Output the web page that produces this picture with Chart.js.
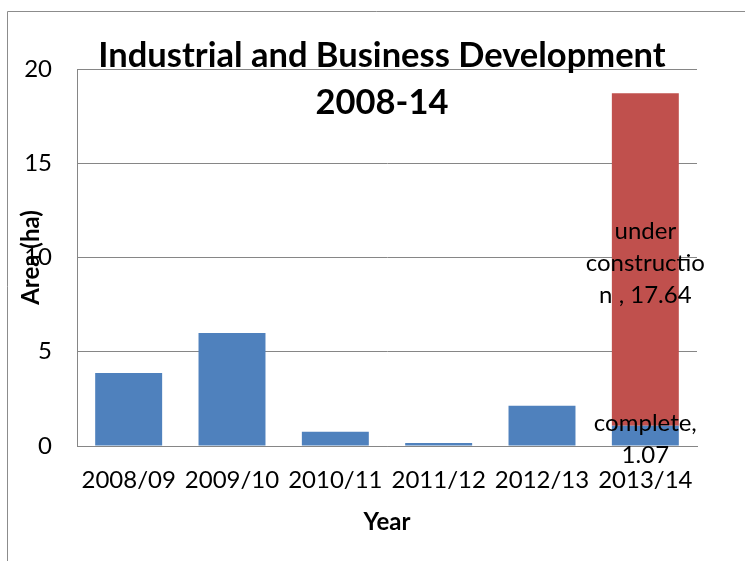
<!DOCTYPE html>
<html>
<head>
<meta charset="utf-8">
<script src="https://cdn.jsdelivr.net/npm/chart.js@4.4.0/dist/chart.umd.min.js"></script>
<style>
  html, body { margin: 0; padding: 0; background: #fff; overflow: hidden; }
  #wrap { width: 745px; height: 561px; }
</style>
</head>
<body>
<div id="wrap"><canvas id="devChart" width="745" height="561"></canvas></div>
<script>
// datos del grafico
const years = ['2008/09', '2009/10', '2010/11', '2011/12', '2012/13', '2013/14'];
const complete = [3.87, 6.0, 0.75, 0.16, 2.13, 1.07];
const underConstruction = [0, 0, 0, 0, 0, 17.64];
const yTicks = [0, 5, 10, 15, 20];
const titleLines = ['Industrial and Business Development', '2008-14'];
// etiquetas de datos (solo en la ultima barra, como en Excel)
const completeLabel = ['complete,', '1.07'];
const underLabel = ['under', 'constructio', 'n , 17.64'];

const FONT = 'Lato, "Open Sans", sans-serif';

const decoPlugin = {
    id: 'deco',
    beforeDraw(chart) {
        const c = chart.ctx;
        c.save();
        c.strokeStyle = '#8c8c8c';
        c.lineWidth = 1;
        c.beginPath();
        c.moveTo(7.5, 561);
        c.lineTo(7.5, 11.5);
        c.lineTo(745, 11.5);
        c.stroke();
        c.restore();
    },
    afterDraw(chart) {
        const c = chart.ctx;
        const area = chart.chartArea;
        const cx = (area.left + area.right) / 2 - 5;
        c.save();
        c.fillStyle = '#000';
        c.textAlign = 'center';
        c.textBaseline = 'middle';

        // titulo
        c.font = 'bold 34.5px ' + FONT;
        c.fillText(titleLines[0], cx, 56);
        c.fillText(titleLines[1], cx, 103);

        // etiquetas de la barra 2013/14
        c.font = '24px ' + FONT;
        const last = years.length - 1;
        const drawBlock = (lines, el, shift) => {
            const mid = (el.y + el.base) / 2 + shift;
            const lh = 32;
            const start = mid - (lines.length - 1) * lh / 2;
            lines.forEach((t, i) => c.fillText(t, el.x, start + i * lh));
        };
        drawBlock(underLabel, chart.getDatasetMeta(1).data[last], 4);
        drawBlock(completeLabel, chart.getDatasetMeta(0).data[last], 4);
        c.restore();
    }
};

const ctx = document.getElementById('devChart').getContext('2d');
const devChart = new Chart(ctx, {
    type: 'bar',
    data: {
        labels: years,
        datasets: [{
            label: 'complete',
            data: complete,
            backgroundColor: '#4F81BD',
            borderWidth: 0,
            barPercentage: 0.81
        }, {
            label: 'under construction',
            data: underConstruction,
            backgroundColor: '#C0504D',
            borderWidth: 0,
            barPercentage: 0.81
        }]
    },
    options: {
        responsive: false,
        animation: false,
        layout: { padding: { top: 69, right: 48, left: 0, bottom: 0 } },
        plugins: {
            legend: { display: false },
            tooltip: { enabled: false }
        },
        scales: {
            x: {
                stacked: true,
                grid: { display: false, drawTicks: false },
                border: { display: true, color: '#868686', width: 1 },
                ticks: { color: '#000', font: { family: FONT, size: 24 }, padding: 20, maxRotation: 0 },
                title: { display: true, text: 'Year', color: '#000', font: { family: FONT, size: 24, weight: 'bold' }, padding: { top: 0, bottom: 24 } },
                afterFit(scale) { scale.height = 115; }
            },
            y: {
                stacked: true,
                min: 0,
                max: 20,
                afterBuildTicks(scale) { scale.ticks = yTicks.map(v => ({ value: v })); },
                grid: { color: '#868686', lineWidth: 1, drawTicks: false },
                border: { display: true, color: '#868686', width: 1 },
                ticks: { color: '#000', font: { family: FONT, size: 24 }, padding: 25 },
                title: { display: true, text: 'Area (ha)', color: '#000', font: { family: FONT, size: 24, weight: 'bold' }, padding: { top: 17, bottom: 0 } },
                afterFit(scale) { scale.width = 77; }
            }
        }
    },
    plugins: [decoPlugin]
});
</script>
</body>
</html>
